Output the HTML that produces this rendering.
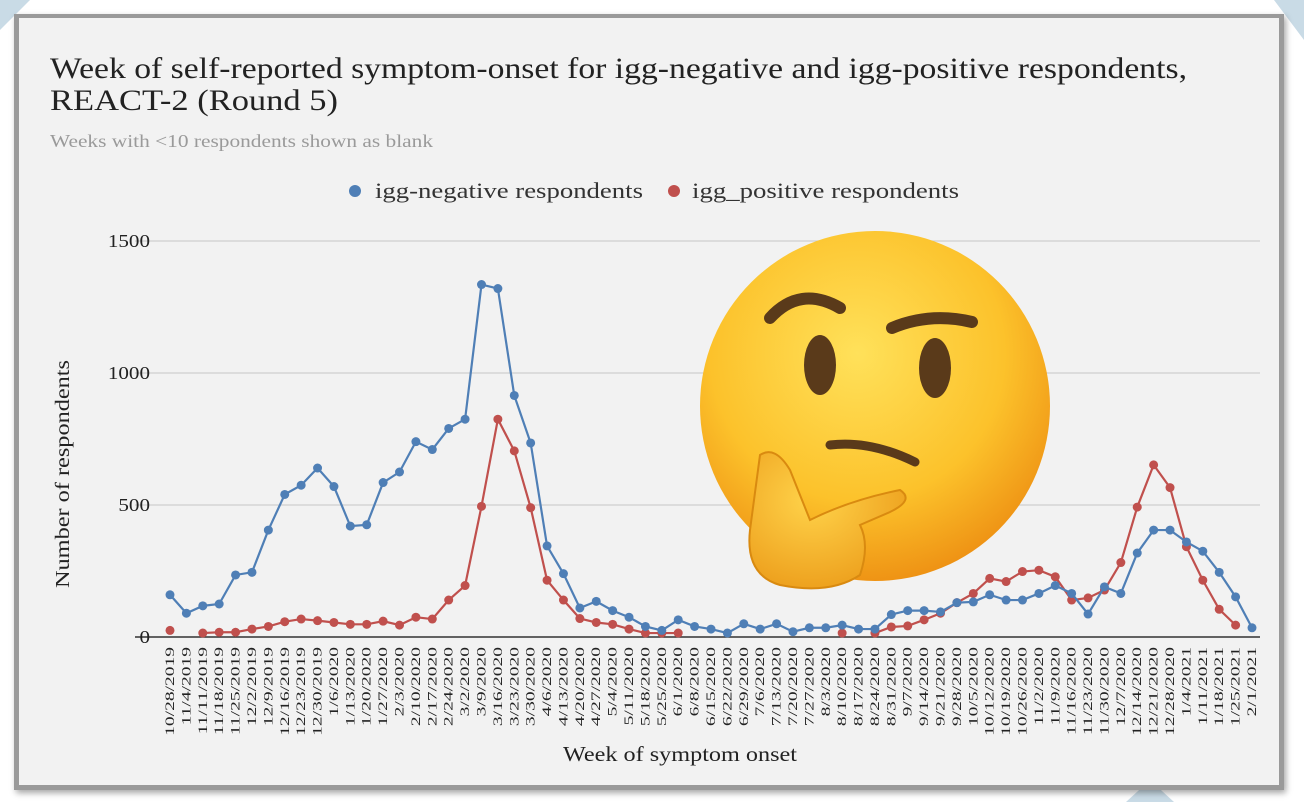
<!DOCTYPE html>
<html><head><meta charset="utf-8"><style>
body{margin:0;width:1304px;height:802px;background:#fff;overflow:hidden;font-family:"Liberation Serif",serif;}
#frame{position:absolute;left:14px;top:14px;width:1270px;height:776px;background:#f2f2f2;border:5px solid #9a9a9a;border-top-width:4px;box-sizing:border-box;box-shadow:2px 3px 6px rgba(0,0,0,.35);}
.corner{position:absolute;background:#c9dbe6;}
</style></head><body>
<div class="corner" style="left:0;top:0;width:30px;height:30px;clip-path:polygon(0 0,100% 0,0 100%);"></div>
<div class="corner" style="left:1274px;top:0;width:30px;height:40px;clip-path:polygon(0 0,100% 0,100% 100%);"></div>
<div class="corner" style="left:1110px;top:780px;width:80px;height:22px;clip-path:polygon(20% 100%,50% 0,80% 100%);"></div>
<div id="frame"></div>
<svg id="chart" width="1304" height="802" style="position:absolute;left:0;top:0">
<defs>
<radialGradient id="face" cx="45%" cy="35%" r="70%"><stop offset="0" stop-color="#ffe15a"/><stop offset=".6" stop-color="#fcc22b"/><stop offset="1" stop-color="#ec8a10"/></radialGradient>
<radialGradient id="hand" cx="40%" cy="35%" r="75%"><stop offset="0" stop-color="#ffd34a"/><stop offset="1" stop-color="#eb9a18"/></radialGradient>
</defs>
<text x="50" y="78" font-size="30" fill="#222" textLength="1137" lengthAdjust="spacingAndGlyphs">Week of self-reported symptom-onset for igg-negative and igg-positive respondents,</text>
<text x="50" y="110" font-size="30" fill="#222" textLength="288" lengthAdjust="spacingAndGlyphs">REACT-2 (Round 5)</text>
<text x="50" y="147" font-size="18" fill="#9a9a9a" textLength="383" lengthAdjust="spacingAndGlyphs">Weeks with &lt;10 respondents shown as blank</text>
<g>
<circle cx="355" cy="191" r="6" fill="#4f7fb6"/>
<text x="375" y="198" font-size="22" fill="#333" textLength="268" lengthAdjust="spacingAndGlyphs">igg-negative respondents</text>
<circle cx="674" cy="191" r="6" fill="#c0504d"/>
<text x="692" y="198" font-size="22" fill="#333" textLength="267" lengthAdjust="spacingAndGlyphs">igg_positive respondents</text>
</g>
<text transform="translate(69,474) rotate(-90)" text-anchor="middle" font-size="20" fill="#222" textLength="228" lengthAdjust="spacingAndGlyphs">Number of respondents</text>
<text x="680" y="761" text-anchor="middle" font-size="21" fill="#222" textLength="234" lengthAdjust="spacingAndGlyphs">Week of symptom onset</text>
<g id="grid"></g><g id="xt"></g><g id="series"></g>
<g>
<circle cx="875" cy="406" r="175" fill="url(#face)"/>
<ellipse cx="820" cy="365" rx="16" ry="30" fill="#5a3a1a"/>
<ellipse cx="935" cy="368" rx="16" ry="30" fill="#5a3a1a"/>
<path d="M770 318 Q800 285 840 308" stroke="#5a3a1a" stroke-width="12" fill="none" stroke-linecap="round"/>
<path d="M892 328 Q930 312 972 322" stroke="#5a3a1a" stroke-width="12" fill="none" stroke-linecap="round"/>
<path d="M830 445 Q870 440 915 462" stroke="#5a3a1a" stroke-width="9" fill="none" stroke-linecap="round"/>
<path d="M760 455 Q775 445 790 470 L810 520 Q850 500 900 490 Q915 500 890 512 L860 525 Q870 545 860 575 Q830 595 780 585 Q745 575 750 530 Z" fill="url(#hand)" stroke="#d98a10" stroke-width="2"/>
</g>
</svg>
<script>
const NS="http://www.w3.org/2000/svg";
const labels=[];{let d=new Date(2019,9,28);for(let i=0;i<67;i++){labels.push((d.getMonth()+1)+"/"+d.getDate()+"/"+d.getFullYear());d.setDate(d.getDate()+7);}}
const yTicks=[0,500,1000,1500];
const negative=[160,90,118,125,235,245,405,540,575,640,570,420,425,585,625,740,710,790,825,1335,1320,915,735,345,240,110,135,100,75,40,25,65,40,30,15,50,30,50,20,35,35,45,30,30,85,100,100,95,130,133,160,140,140,165,195,165,87,190,165,318,405,405,360,325,245,152,35];
const positive=[25,null,15,18,18,30,40,58,68,62,55,48,48,60,45,75,68,140,195,495,825,705,490,215,140,70,55,48,30,15,15,15,null,null,null,null,null,null,null,null,null,15,null,15,38,42,65,90,130,165,222,210,248,253,228,140,148,178,282,492,652,566,342,215,105,45,null];
const X0=170,X1=1252,Y0=637,Y1=241,YMAX=1500;
const xs=i=>X0+(X1-X0)*i/(labels.length-1);
const ys=v=>Y0-(Y0-Y1)*v/YMAX;
function mk(t,a,p){const e=document.createElementNS(NS,t);for(const k in a)e.setAttribute(k,a[k]);p.appendChild(e);return e;}
function stretch(t,f){const w=t.getComputedTextLength();t.setAttribute('textLength',w*f);t.setAttribute('lengthAdjust','spacingAndGlyphs');}
const grid=document.getElementById('grid');
yTicks.forEach(v=>{
 const l=mk('line',{x1:135,x2:1260,y1:ys(v),y2:ys(v),stroke:v===0?'#333':'#cfcfcf','stroke-width':v===0?1.5:1.2},grid);
 
 
 const t=mk('text',{x:150,y:ys(v)+6,'text-anchor':'end','font-size':18,fill:'#222'},grid);
 t.textContent=v;
 
 
 stretch(t,1.17);
});
const xt=document.getElementById('xt');
labels.forEach((s,i)=>{
 const t=mk('text',{transform:`translate(${xs(i)+4},${647}) rotate(-90)`,'text-anchor':'end','font-size':13,fill:'#222'},xt);
 t.textContent=s;
 
 
 stretch(t,1.5);
});
const ser=document.getElementById('series');
function draw(vals,col,name){
 let d="",pen=false;
 vals.forEach((v,i)=>{if(v==null){pen=false;return;}d+=(pen?"L":"M")+xs(i)+" "+ys(v)+" ";pen=true;});
 const p=mk('path',{d:d,stroke:col,'stroke-width':2.2,fill:'none'},ser);
 
 
 vals.forEach((v,i)=>{if(v==null)return;
  const c=mk('circle',{cx:xs(i),cy:ys(v),r:4.5,fill:col},ser);
  
  
 });
}
draw(positive,'#c0504d','igg-positive');
draw(negative,'#4f7fb6','igg-negative');
</script>
</body></html>
